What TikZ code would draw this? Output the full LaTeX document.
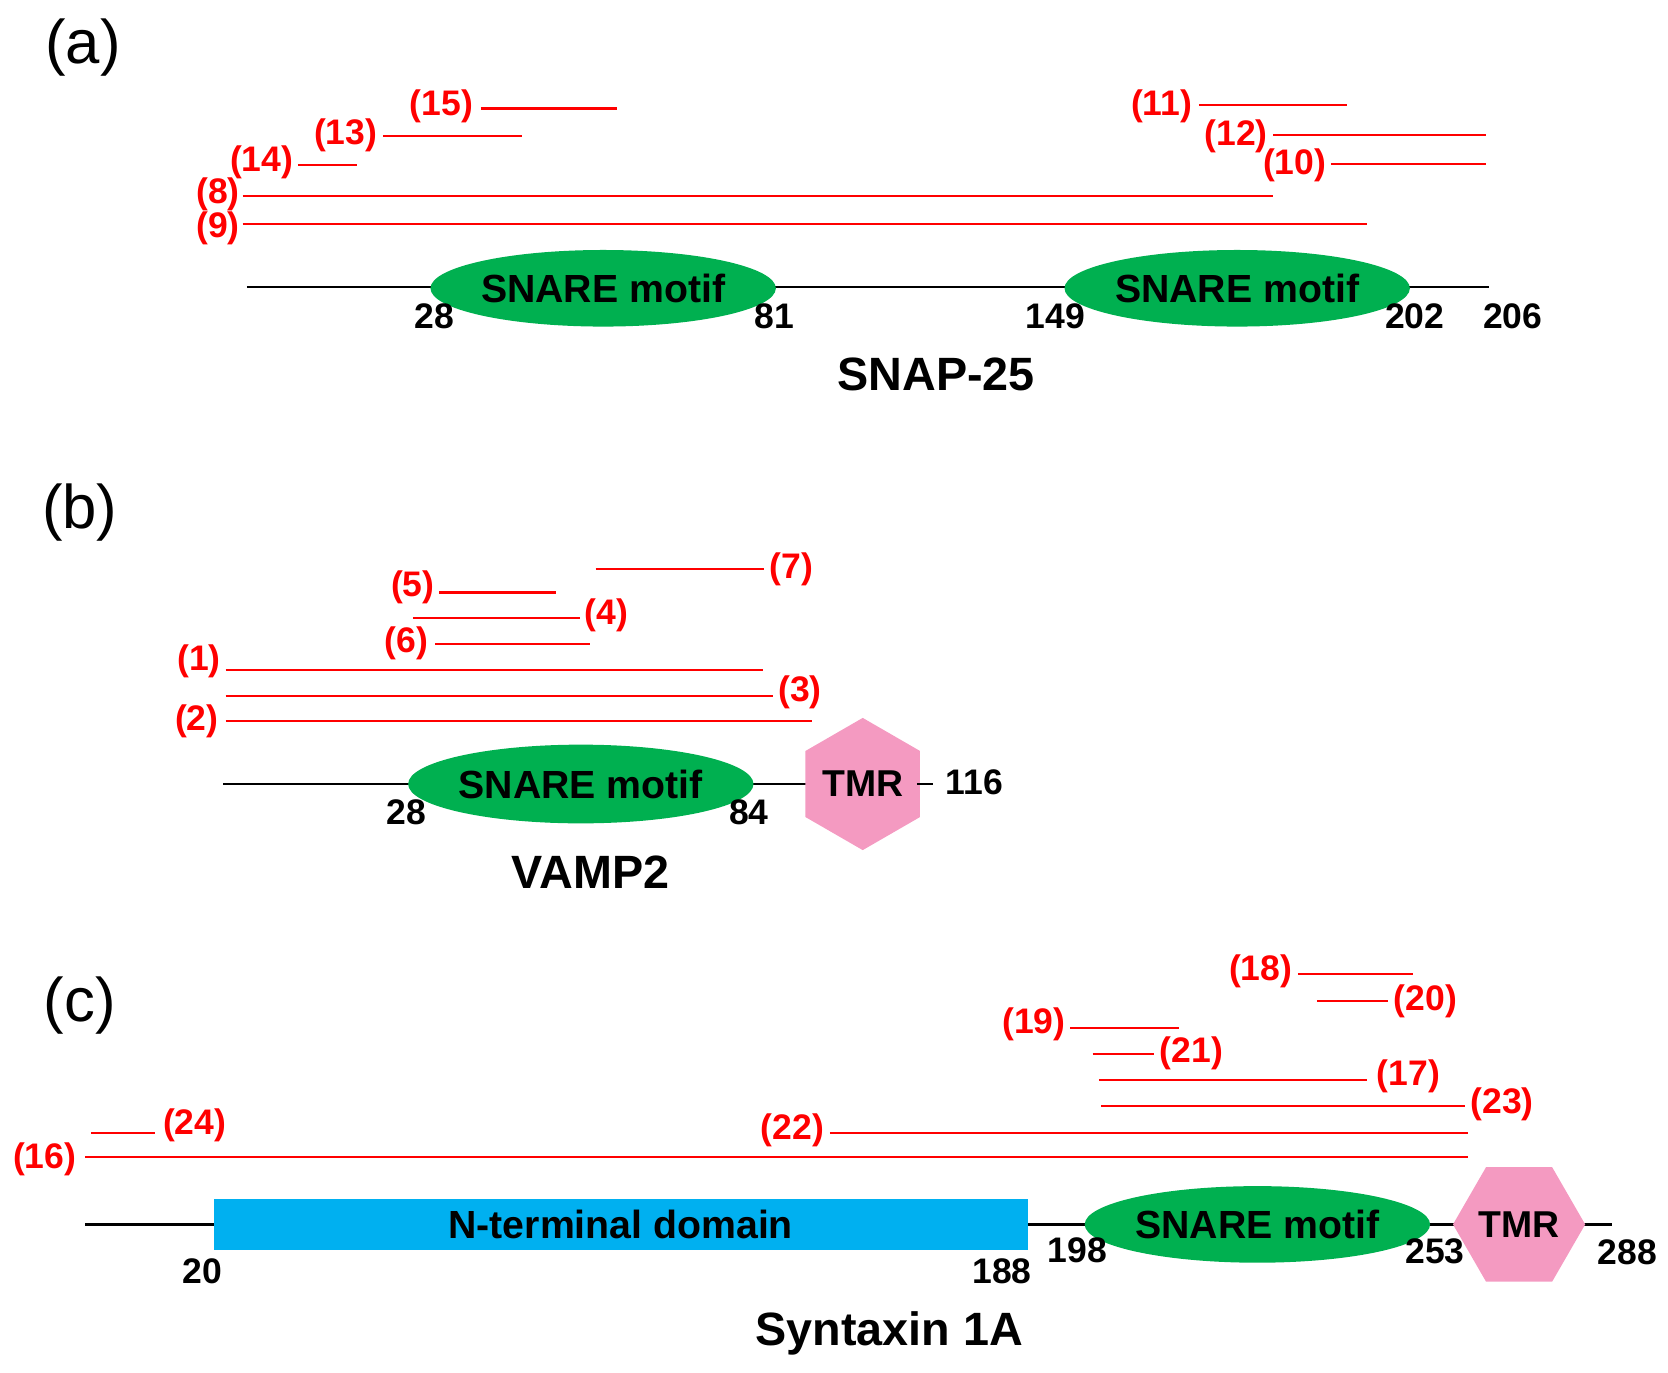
\documentclass[tikz,border=0pt]{standalone}
\usepackage{fontspec}
\setmainfont{Liberation Sans}
\usetikzlibrary{shapes.geometric}
\definecolor{rd}{HTML}{FF0000}
\definecolor{gr}{HTML}{00B050}
\definecolor{cy}{HTML}{00B0F0}
\definecolor{pk}{HTML}{F49AC1}
\begin{document}
\begin{tikzpicture}[x=0.02cm,y=-0.02cm,
 ln/.style={line width=1.3pt},
 rl/.style={rd,line width=1.1pt},
 rt/.style={text=rd,font=\fontsize{19}{19}\selectfont\bfseries,inner sep=0},
 num/.style={font=\fontsize{19}{19}\selectfont\bfseries,inner sep=0},
 ttl/.style={font=\fontsize{25}{25}\selectfont\bfseries,inner sep=0},
 pan/.style={font=\fontsize{33}{33}\selectfont,inner sep=0},
 snare/.style={ellipse,fill=gr,minimum width=296\pgflinewidth,inner sep=0,font=\fontsize{21}{21}\selectfont\bfseries},
 tmr/.style={regular polygon,regular polygon sides=6,fill=pk,inner sep=0,font=\fontsize{20}{20}\selectfont\bfseries}]
\useasboundingbox (0,0) rectangle (1568,1290);
% (a)
\node[pan] (pa) at (78,45) {(a)};
\coordinate (a0) at (232,270); \coordinate (a1) at (1400,270);
\draw[ln] (a0) -- (a1);
\node[ellipse,fill=gr,minimum width=5.92cm,minimum height=1.44cm,inner sep=0,font=\fontsize{21}{21}\selectfont\bfseries] (s1) at (567,271) {SNARE motif};
\node[ellipse,fill=gr,minimum width=5.92cm,minimum height=1.44cm,inner sep=0,font=\fontsize{21}{21}\selectfont\bfseries] (s2) at (1163,271) {SNARE motif};
\node[num] (n28) at (408,297) {28};
\node[num] (n81) at (728,297) {81};
\node[num] (n149) at (992,297) {149};
\node[num] (n202) at (1330,297) {202};
\node[num] (n206) at (1422,297) {206};
\node[ttl] (snap) at (880,352) {SNAP-25};
\foreach \l/\lx/\ly/\xa/\xb/\yy in {15/415/100/452/580/102, 13/325/127/360/491/128, 14/246/153/280/336/155, 8/205/183/228/1197/184, 9/205/215/228/1285/211, 11/1092/100/1127/1266/99, 12/1162/128/1197/1397/127, 10/1217/155/1251/1397/154}{
 \node[rt] (r\l) at (\lx,\ly) {(\l)};
 \coordinate (p\l a) at (\xa,\yy); \coordinate (p\l b) at (\xb,\yy);
 \draw[rl] (p\l a) -- (p\l b);}
% (b)
\node[pan] (pb) at (75,482) {(b)};
\coordinate (b0) at (210,737); \coordinate (b1) at (770,737);
\draw[ln] (b0) -- (b1);
\node[ellipse,fill=gr,minimum width=5.92cm,minimum height=1.48cm,inner sep=0,font=\fontsize{21}{21}\selectfont\bfseries] (s3) at (546,737) {SNARE motif};
\node[regular polygon,regular polygon sides=6,shape border rotate=30,fill=pk,minimum size=1.9cm,inner sep=0,font=\fontsize{20}{20}\selectfont\bfseries] (t1) at (811,737) {TMR};
\coordinate (b2) at (862,737); \coordinate (b3) at (877,737);
\draw[ln] (b2) -- (b3);
\node[num] (n116) at (916,735) {116};
\node[num] (n28b) at (382,764) {28};
\node[num] (n84) at (704,764) {84};
\node[ttl] (vamp) at (555,820) {VAMP2};
\foreach \l/\lx/\ly/\xa/\xb/\yy in {7/744/535/560/718/535, 5/388/552/413/523/557, 4/570/578/388/545/581, 6/382/605/409/555/605, 1/187/622/212/717/630, 3/752/651/212/727/654, 2/185/678/212/763/678}{
 \node[rt] (r\l) at (\lx,\ly) {(\l)};
 \coordinate (p\l a) at (\xa,\yy); \coordinate (p\l b) at (\xb,\yy);
 \draw[rl] (p\l a) -- (p\l b);}
% (c)
\node[pan] (pc) at (75,945) {(c)};
\coordinate (c0) at (80,1151); \coordinate (c1) at (1515,1151);
\draw[ln] (c0) -- (c1);
\node[rectangle,fill=cy,minimum width=15.3cm,minimum height=0.96cm,inner sep=0,font=\fontsize{21}{21}\selectfont\bfseries] (nt) at (583.5,1151) {N-terminal domain};
\node[ellipse,fill=gr,minimum width=5.92cm,minimum height=1.44cm,inner sep=0,font=\fontsize{21}{21}\selectfont\bfseries] (s4) at (1182,1151) {SNARE motif};
\node[regular polygon,regular polygon sides=6,fill=pk,minimum size=2.0cm,inner sep=0,font=\fontsize{20}{20}\selectfont\bfseries] (t2) at (1428,1151) {TMR};
\node[num] (n20) at (190,1195) {20};
\node[num] (n188) at (942,1195) {188};
\node[num] (n198) at (1013,1175) {198};
\node[num] (n253) at (1349,1176) {253};
\node[num] (n288) at (1530,1177) {288};
\node[ttl] (syn) at (836,1253) {Syntaxin 1A};
\foreach \l/\lx/\ly/\xa/\xb/\yy in {18/1185/913/1220/1328/916, 20/1340/941/1238/1305/941, 19/972/963/1006/1108/966, 21/1120/990/1027/1085/991, 17/1324/1012/1033/1285/1015, 23/1412/1038/1035/1377/1040, 22/745/1063/780/1380/1065, 24/183/1058/86/146/1065, 16/42/1090/80/1380/1088}{
 \node[rt] (r\l) at (\lx,\ly) {(\l)};
 \coordinate (p\l a) at (\xa,\yy); \coordinate (p\l b) at (\xb,\yy);
 \draw[rl] (p\l a) -- (p\l b);}
\end{tikzpicture}
\end{document}
